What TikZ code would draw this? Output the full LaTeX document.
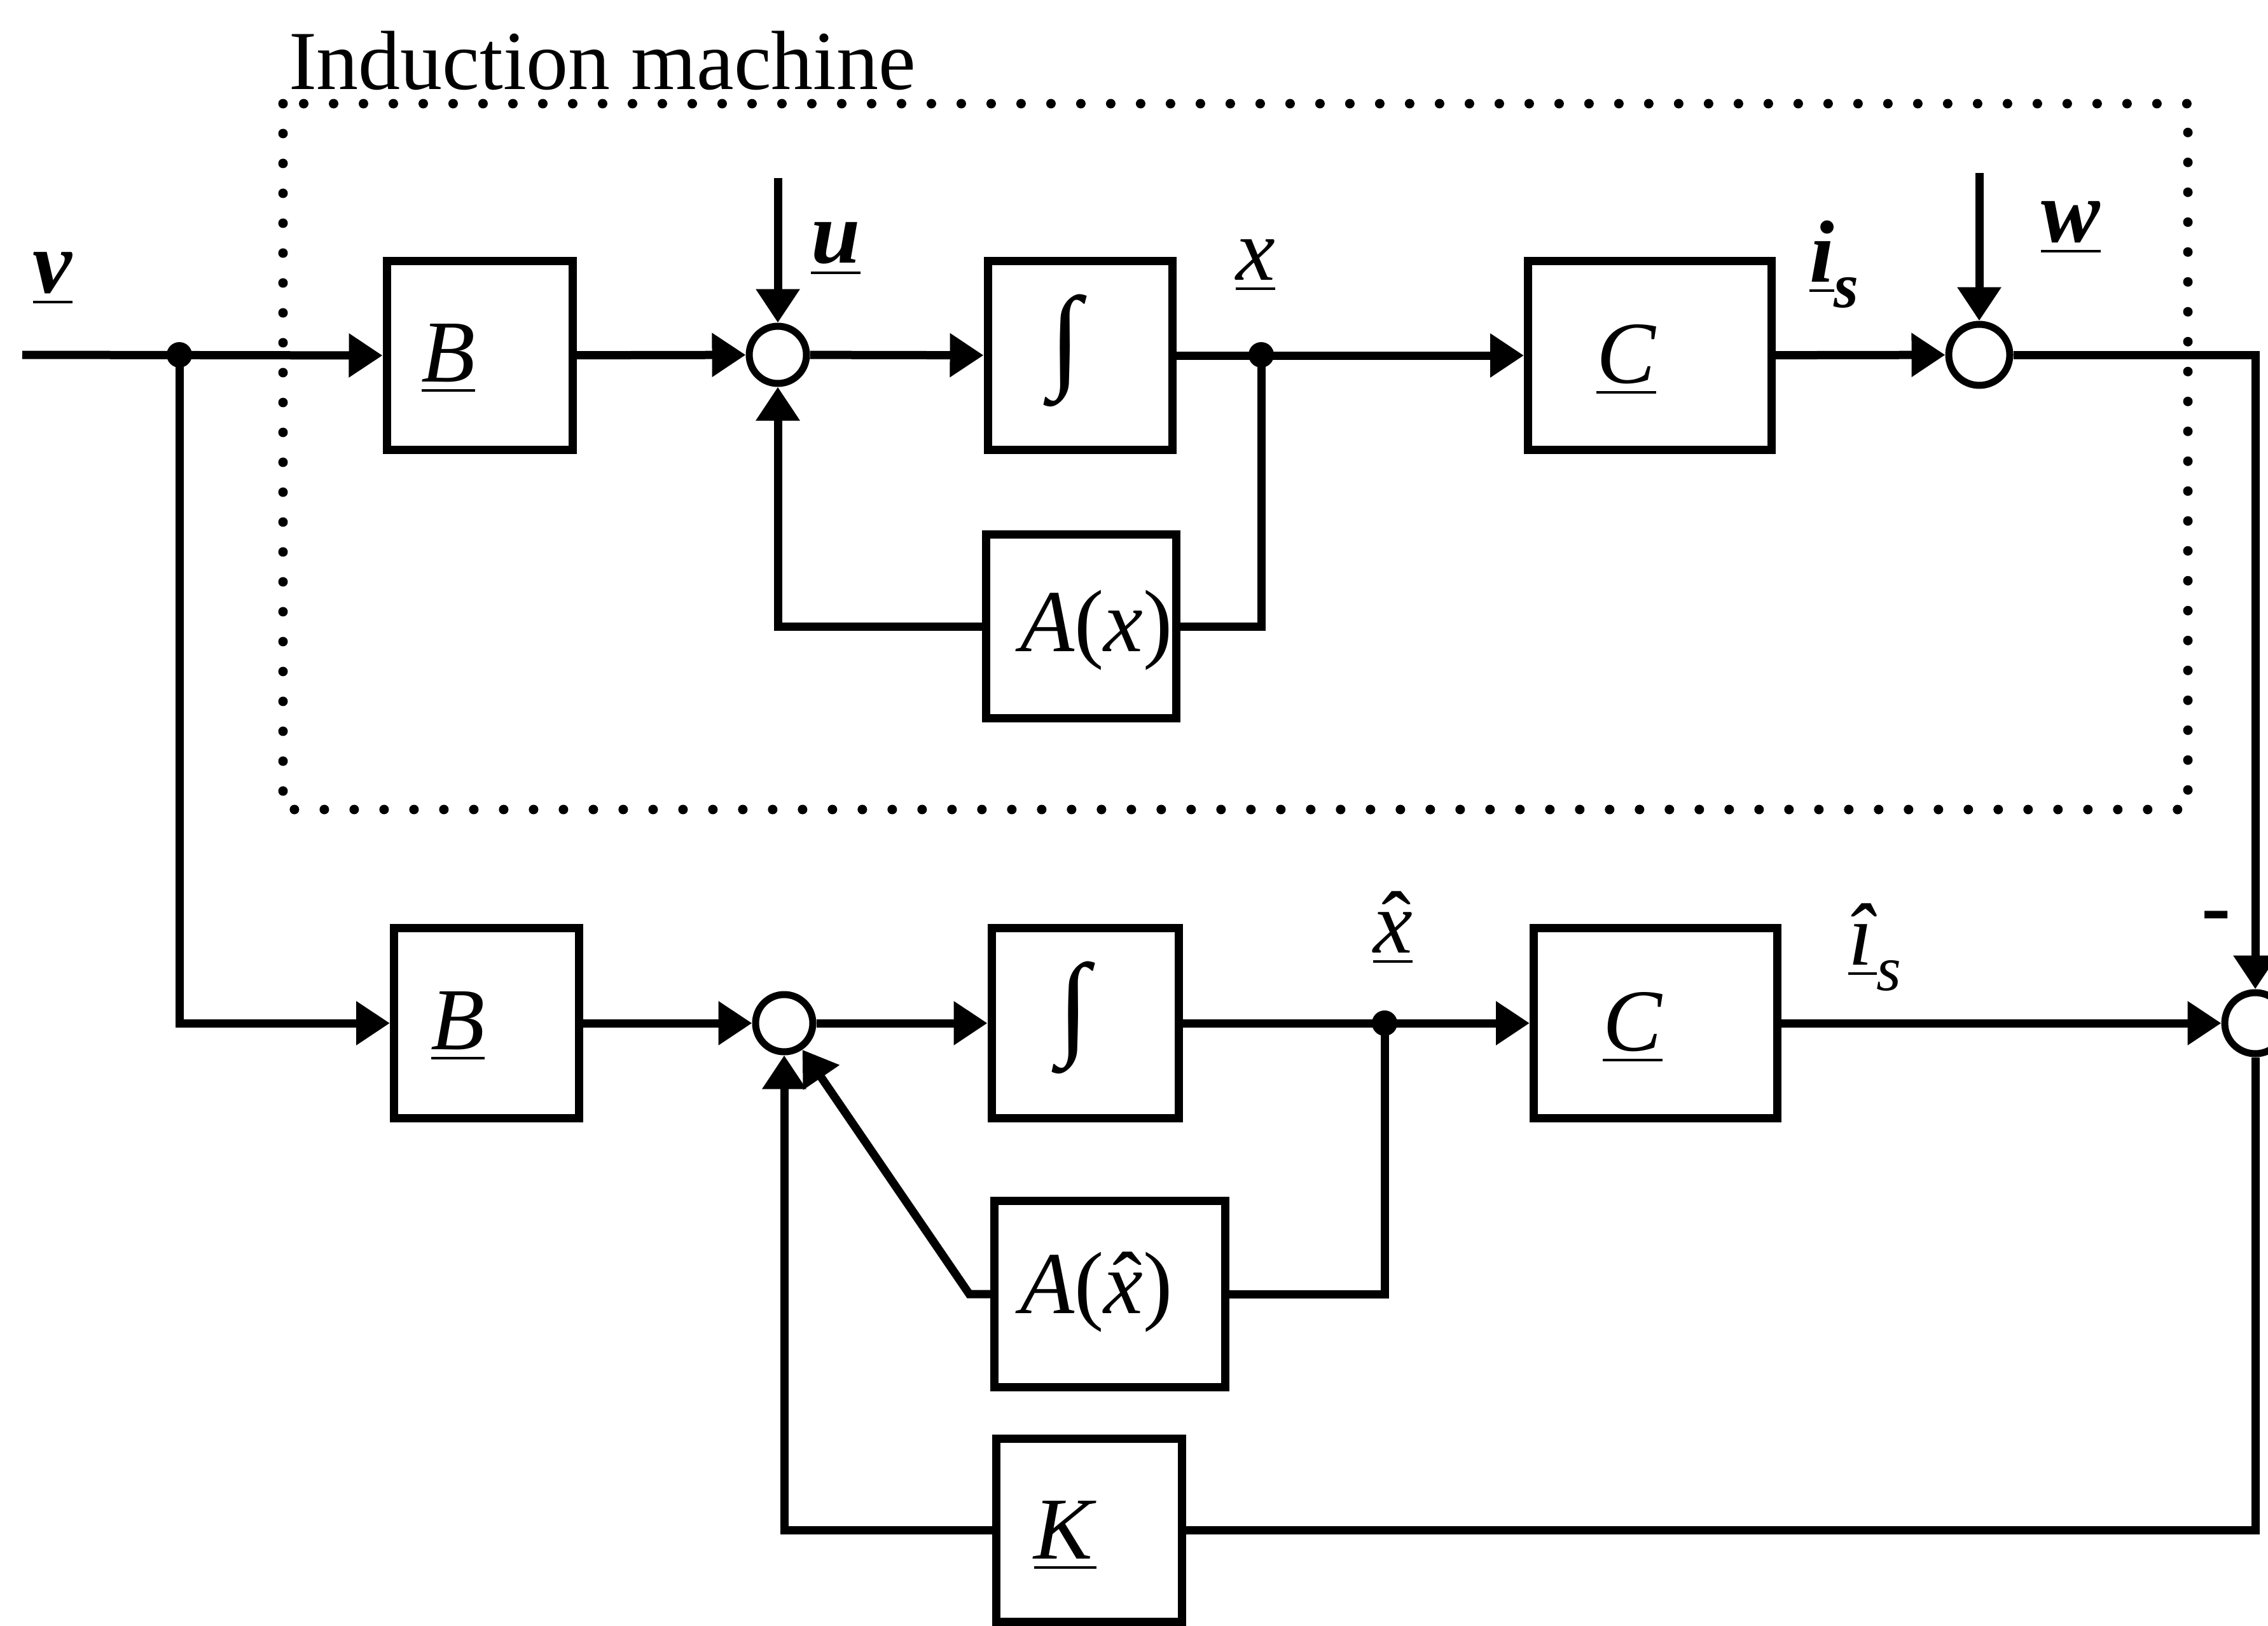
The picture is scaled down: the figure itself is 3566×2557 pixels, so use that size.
\documentclass[tikz,border=0pt]{standalone}
\usepackage{fontspec}
\setmainfont{Liberation Serif}
\usetikzlibrary{arrows.meta}
\newcommand\lbfont{\fontsize{13.9}{16}\selectfont}
\newcommand\subfont{\fontsize{10}{12}\selectfont}
\newcommand\intfont{\fontsize{18}{20}\selectfont}
\newcommand\hatit[1]{{\ooalign{\textit{#1}\cr\hidewidth\kern1.2pt\char"02C6\hidewidth\cr}}}
\begin{document}
\begin{tikzpicture}[x=0.1pt,y=-0.1pt,
  blk/.style={draw, line width=1.3pt, inner sep=0pt},
  sz/.style 2 args={minimum width=#1*0.1pt, minimum height=#2*0.1pt},
  sumj/.style={circle, draw, line width=1.1pt, minimum size=9pt, inner sep=0pt},
  jdot/.style={circle, fill, minimum size=4pt, inner sep=0pt},
  wire/.style={line width=1.3pt},
  sig/.style={wire, -{Triangle[length=5.3pt,width=6.6pt]}},
  lbl/.style={inner sep=0pt, font=\lbfont},
  bt/.style={inner sep=0pt, font=\lbfont, anchor=base},
  frame/.style={line width=1.5pt, dash pattern=on 0pt off 4.7pt, line cap=round}]
\useasboundingbox (0,0) rectangle (3566,2557);

% machine frame
\draw[frame] (445,163) rectangle (3440,1273);
\node[inner sep=0pt, font=\fontsize{13.2}{15}\selectfont, anchor=base west] (title) at (452,140) {Induction machine};

% top row
\coordinate (in) at (35,558);
\coordinate (uin) at (1223,280);
\coordinate (win) at (3112,272);
\node[blk, sz={292}{297}] (B1) at (754,559) {};
\node[sumj] (S1) at (1223,558) {};
\node[blk, sz={290}{297}] (I1) at (1698,559) {};
\node[blk, sz={383}{297}] (C1) at (2594,559) {};
\node[sumj, minimum size=9.6pt] (S2) at (3112,558) {};
\node[blk, sz={299}{289}] (A1) at (1700,985) {};
\node[jdot] (jv) at (282,558) {};
\node[jdot] (jx) at (1983,558) {};

% bottom row
\node[blk, sz={291}{299}] (B2) at (765,1609) {};
\node[sumj] (S3) at (1233,1609) {};
\node[blk, sz={294}{299}] (I2) at (1706,1609) {};
\node[blk, sz={383}{299}] (C2) at (2603,1609) {};
\node[sumj, minimum size=9.6pt] (S4) at (3546,1609) {};
\node[blk, sz={363}{293}] (A2) at (1745,2035) {};
\node[blk, sz={292}{288}] (K) at (1712,2406) {};
\node[jdot] (jxh) at (2177,1609) {};
\coordinate (dg) at (1524,2035);

% block texts
\node[bt] (tB1) at (705,600) {\underline{\textit{B}}};
\node[inner sep=0pt, font=\intfont] (tI1) at (1680,551) {\textbf{∫}};
\node[bt] (tC1) at (2557,602) {\underline{\textit{C}}};
\node[bt] (tA1) at (1724,1024) {\textit{A}(\textit{x})};
\node[bt] (tB2) at (720,1650) {\underline{\textit{B}}};
\node[inner sep=0pt, font=\intfont] (tI2) at (1693,1600) {\textbf{∫}};
\node[bt] (tC2) at (2567,1652) {\underline{\textit{C}}};
\node[bt] (tA2) at (1724,2065) {\textit{A}(\hatit{x})};
\node[bt] (tK) at (1675,2451) {\underline{\textit{K}}};

% signal labels
\node[bt] (lv) at (83,460) {\underline{\textbf{\textit{v}}}};
\node[bt] (lu) at (1314,413) {\underline{\textbf{\textit{u}}}};
\node[bt] (lx) at (1974,440) {\underline{\textit{x}}};
\node[lbl, anchor=base west] (lis) at (2843,443) {\underline{\textbf{\textit{i}}}\raisebox{-4pt}{\subfont\textbf{\textit{s}}}};
\node[bt] (lw) at (3256,380) {\underline{\textbf{\textit{w}}}};
\node[bt] (lxh) at (2190,1498) {\underline{\hatit{x}}};
\node[lbl, anchor=base west] (lish) at (2904,1517) {\underline{\textit{\^{\i}}}\raisebox{-4pt}{\subfont\textit{s}}};
\node[lbl] (minus) at (3485,1452) {\textbf{-}};

% top connectors
\draw[sig] (in) -- (B1.west);
\draw[sig] (B1) -- (S1);
\draw[sig] (S1) -- (I1);
\draw[sig] (I1) -- (C1);
\draw[sig] (C1) -- (S2);
\draw[sig] (uin) -- (S1);
\draw[sig] (win) -- (S2);
\draw[sig] (S2.east) -| (S4.north);
\draw[wire] (jx.center) |- (A1.east);
\draw[sig] (A1.west) -| (S1.south);

% bottom connectors
\draw[sig] (jv.center) |- (B2.west);
\draw[sig] (B2) -- (S3);
\draw[sig] (S3) -- (I2);
\draw[sig] (I2) -- (C2);
\draw[sig] (C2) -- (S4);
\draw[wire] (jxh.center) |- (A2.east);
\draw[sig] (A2.west) -- (dg) -- (S3);
\draw[wire] (S4.south) |- (K.east);
\draw[sig] (K.west) -| (S3.south);
\end{tikzpicture}
\end{document}
